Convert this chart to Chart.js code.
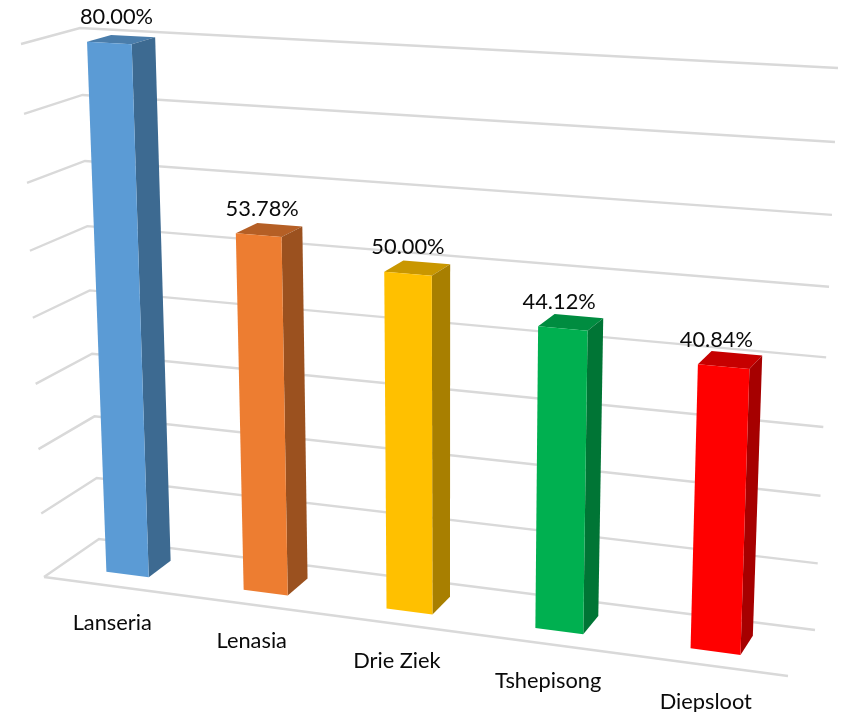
<!DOCTYPE html>
<html>
<head>
<meta charset="utf-8">
<title>Chart</title>
<script src="https://cdn.jsdelivr.net/npm/chart.js@4/dist/chart.umd.min.js"></script>
<style>
  html, body { margin: 0; padding: 0; background: #fff; }
  canvas { display: block; }
</style>
</head>
<body>
<canvas id="chart" width="848" height="712"></canvas>
<script>
const categories = ['Lanseria', 'Lenasia', 'Drie Ziek', 'Tshepisong', 'Diepsloot'];
const values     = [80.00, 53.78, 50.00, 44.12, 40.84];
const frontCols  = ['#5B9BD5', '#ED7D31', '#FFC000', '#00B050', '#FF0000'];
const sideCols   = ['#3D6A91', '#9B511F', '#A87F00', '#007535', '#A60000'];
const topCols    = ['#4A7DAB', '#B55F25', '#C99700', '#008C40', '#C60000'];

// walls of the 3D box, corners are TL, TR, BR, BL on screen
const BACK_WALL  = [[80, 28], [838, 68], [815, 630], [99, 539]];
const FRONT_WALL = [[21, 44], [809, 87], [788, 676], [44, 577]];
const BAR_FRONT = 0.30, BAR_BACK = 0.72;   // depth of the bars inside the box
const GRID = '#D9D9D9';
const FONT = '21.8px Lato, sans-serif';

// ── unit square -> quad ───────────────────────────────────────
function homography(q) {
  const [[x0, y0], [x1, y1], [x2, y2], [x3, y3]] = q;
  const dx1 = x1 - x2, dx2 = x3 - x2, sx = x0 - x1 + x2 - x3;
  const dy1 = y1 - y2, dy2 = y3 - y2, sy = y0 - y1 + y2 - y3;
  const det = dx1 * dy2 - dx2 * dy1;
  const g = (sx * dy2 - dx2 * sy) / det;
  const h = (dx1 * sy - sx * dy1) / det;
  return (u, v) => {
    const w = g * u + h * v + 1;
    return [
      ((x1 - x0 + g * x1) * u + (x3 - x0 + h * x3) * v + x0) / w,
      ((y1 - y0 + g * y1) * u + (y3 - y0 + h * y3) * v + y0) / w,
    ];
  };
}
const _back = homography(BACK_WALL), _front = homography(FRONT_WALL);

// px,py are the flat pixels chart.js gives, d is depth 0 (front) .. 1 (back)
function project(area, px, py, d) {
  const u = (px - area.left) / area.width;
  const v = (py - area.top) / area.height;
  const a = _front(u, v), b = _back(u, v);
  return [a[0] + (b[0] - a[0]) * d, a[1] + (b[1] - a[1]) * d];
}

function poly(ctx, pts, fill) {
  ctx.beginPath();
  pts.forEach((p, i) => i ? ctx.lineTo(p[0], p[1]) : ctx.moveTo(p[0], p[1]));
  ctx.closePath();
  ctx.fillStyle = fill;
  ctx.fill();
}

const box3d = {
  id: 'box3d',
  beforeDatasetsDraw(chart) {
    const { ctx, chartArea: area, scales: { x, y } } = chart;
    ctx.save();
    ctx.strokeStyle = GRID;
    ctx.lineWidth = 2.4;
    y.ticks.forEach(t => {
      const py = y.getPixelForValue(t.value);
      const a = project(area, area.left, py, 0);
      const b = project(area, area.left, py, 1);
      const c = project(area, area.right, py, 1);
      ctx.beginPath();
      ctx.moveTo(a[0], a[1]);
      ctx.lineTo(b[0], b[1]);
      ctx.lineTo(c[0], c[1]);
      ctx.stroke();
    });
    const py0 = y.getPixelForValue(0);
    const f0 = project(area, area.left, py0, 0), f1 = project(area, area.right, py0, 0);
    ctx.beginPath();
    ctx.moveTo(f0[0], f0[1]);
    ctx.lineTo(f1[0], f1[1]);
    ctx.stroke();
    ctx.restore();
  },
  // the flat rectangles are replaced by projected boxes
  beforeDatasetDraw(chart, args) {
    const { ctx, chartArea: area } = chart;
    const meta = args.meta;
    meta.data.forEach((bar, i) => {
      const l = bar.x - bar.width / 2, r = bar.x + bar.width / 2;
      const t = bar.y, b = bar.base;
      const P = (px, py, d) => project(area, px, py, d);
      poly(ctx, [P(l, t, BAR_BACK), P(r, t, BAR_BACK), P(r, t, BAR_FRONT), P(l, t, BAR_FRONT)], topCols[i]);
      poly(ctx, [P(r, t, BAR_FRONT), P(r, t, BAR_BACK), P(r, b, BAR_BACK), P(r, b, BAR_FRONT)], sideCols[i]);
      poly(ctx, [P(l, t, BAR_FRONT), P(r, t, BAR_FRONT), P(r, b, BAR_FRONT), P(l, b, BAR_FRONT)], frontCols[i]);
    });
    return false;
  },
  afterDatasetsDraw(chart) {
    const { ctx, chartArea: area, scales: { x } } = chart;
    const meta = chart.getDatasetMeta(0);
    ctx.save();
    ctx.font = FONT;
    ctx.fillStyle = '#0A0A0A';
    ctx.textAlign = 'center';
    ctx.textBaseline = 'middle';
    meta.data.forEach((bar, i) => {
      const u = (bar.x - area.left) / area.width;
      const top = project(area, bar.x, bar.y, BAR_FRONT);
      ctx.fillText(values[i].toFixed(2) + '%', top[0] + 9 - 18 * u, top[1] - 26.5);
      const foot = project(area, bar.x, bar.base, BAR_FRONT);
      ctx.fillText(x.getLabelForValue(i), foot[0] - 16 + 7 * u, foot[1] + 48 + 2.5 * u);
    });
    ctx.restore();
  },
};

new Chart(document.getElementById('chart'), {
  type: 'bar',
  data: {
    labels: categories,
    datasets: [{
      data: values,
      backgroundColor: frontCols,
      categoryPercentage: 1,
      barPercentage: 0.313,
    }],
  },
  options: {
    responsive: false,
    animation: false,
    layout: { padding: 0 },
    plugins: { legend: { display: false }, tooltip: { enabled: false } },
    scales: {
      x: { display: false },
      y: { display: false, min: 0, max: 80, ticks: { stepSize: 10 } },
    },
  },
  plugins: [box3d],
});
</script>
</body>
</html>
